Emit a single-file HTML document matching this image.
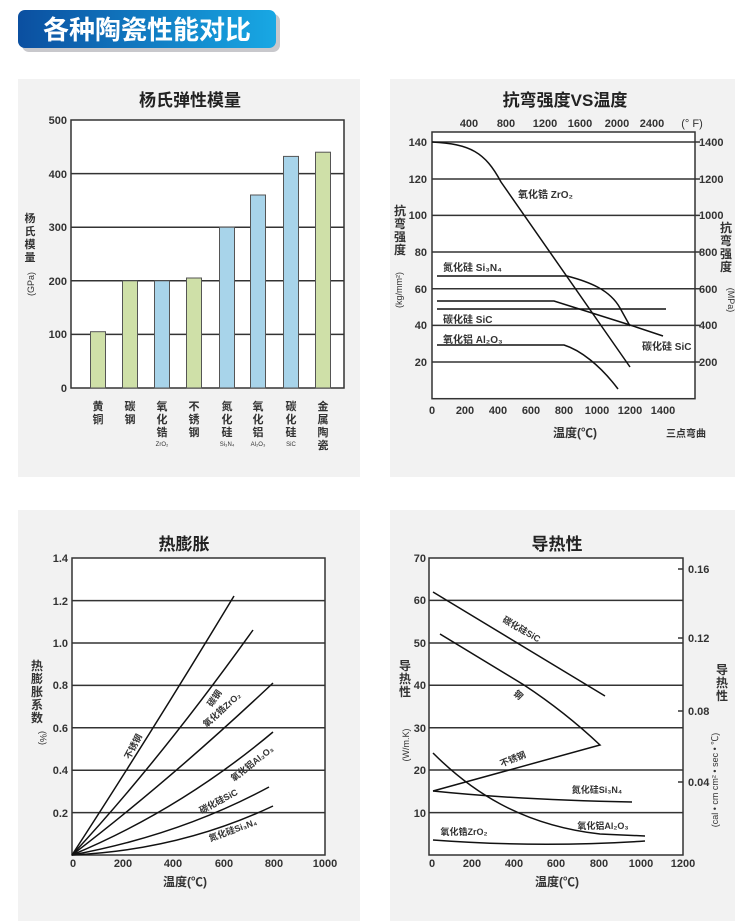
<!DOCTYPE html>
<html><head><meta charset="utf-8"><style>
body{margin:0;background:#fff}
svg{display:block}
text{font-family:"Liberation Sans","Noto Sans CJK SC",sans-serif;fill:#333}
.t{font-size:12px;font-weight:bold}
.ti{font-size:17px;font-weight:bold;fill:#222}
.g{stroke:#333;stroke-width:1.5}
.c{fill:none;stroke:#111;stroke-width:1.5}
.l{font-size:10px;font-weight:bold}
</style></head><body>
<svg width="750" height="924" viewBox="0 0 750 924" xmlns="http://www.w3.org/2000/svg">
<defs><linearGradient id="bg" x1="0" x2="1"><stop offset="0" stop-color="#0b4fa0"/><stop offset="1" stop-color="#18a8e4"/></linearGradient></defs>
<rect x="22" y="14" width="258" height="38" rx="7" fill="#c8c8cc"/>
<rect x="18" y="10" width="258" height="38" rx="7" fill="url(#bg)"/>
<text x="147" y="39" text-anchor="middle" style="font-size:26px;font-weight:bold;fill:#fff">各种陶瓷性能对比</text>

<rect x="18" y="79" width="342" height="398" fill="#f2f2f2"/>
<rect x="390" y="79" width="345" height="398" fill="#f2f2f2"/>
<rect x="18" y="510" width="342" height="411" fill="#f2f2f2"/>
<rect x="390" y="510" width="345" height="411" fill="#f2f2f2"/>

<!-- Chart 1 -->
<text x="190" y="106" class="ti" text-anchor="middle">杨氏弹性模量</text>
<rect x="71" y="120" width="273" height="268" fill="#fff" stroke="#333" stroke-width="1.5"/>
<g class="g"><line x1="71" x2="344" y1="334.4" y2="334.4"/><line x1="71" x2="344" y1="280.8" y2="280.8"/><line x1="71" x2="344" y1="227.2" y2="227.2"/><line x1="71" x2="344" y1="173.6" y2="173.6"/></g>
<g stroke="#555" stroke-width="1">
<rect x="90.5" y="331.7" width="15" height="56.3" fill="#cfe0a8"/>
<rect x="122.5" y="280.8" width="15" height="107.2" fill="#cfe0a8"/>
<rect x="154.5" y="280.8" width="15" height="107.2" fill="#a8d4ea"/>
<rect x="186.5" y="278" width="15" height="110" fill="#cfe0a8"/>
<rect x="219.5" y="227.2" width="15" height="160.8" fill="#a8d4ea"/>
<rect x="250.5" y="195" width="15" height="193" fill="#a8d4ea"/>
<rect x="283.5" y="156.4" width="15" height="231.6" fill="#a8d4ea"/>
<rect x="315.5" y="152.2" width="15" height="235.8" fill="#cfe0a8"/>
</g>
<g class="t" text-anchor="end" style="font-size:11px"><text x="67" y="124">500</text><text x="67" y="178">400</text><text x="67" y="231">300</text><text x="67" y="285">200</text><text x="67" y="338">100</text><text x="67" y="392">0</text></g>
<g class="t" text-anchor="middle" style="font-size:11px">
<text x="30" y="222">杨</text><text x="30" y="235">氏</text><text x="30" y="248">模</text><text x="30" y="261">量</text>
<text transform="translate(34,284) rotate(-90)" style="font-size:9px;font-weight:normal">(GPa)</text>
<text x="98" y="410">黄</text><text x="98" y="423">铜</text>
<text x="130" y="410">碳</text><text x="130" y="423">钢</text>
<text x="162" y="410">氧</text><text x="162" y="423">化</text><text x="162" y="436">锆</text>
<text x="194" y="410">不</text><text x="194" y="423">锈</text><text x="194" y="436">钢</text>
<text x="227" y="410">氮</text><text x="227" y="423">化</text><text x="227" y="436">硅</text>
<text x="258" y="410">氧</text><text x="258" y="423">化</text><text x="258" y="436">铝</text>
<text x="291" y="410">碳</text><text x="291" y="423">化</text><text x="291" y="436">硅</text>
<text x="323" y="410">金</text><text x="323" y="423">属</text><text x="323" y="436">陶</text><text x="323" y="449">瓷</text>
</g>
<g text-anchor="middle" style="font-size:6px"><text x="162" y="446">ZrO₂</text><text x="227" y="446">Si₃N₄</text><text x="258" y="446">Al₂O₃</text><text x="291" y="446">SiC</text></g>

<!-- Chart 2 -->
<text x="565" y="106" class="ti" text-anchor="middle">抗弯强度VS温度</text>
<rect x="432" y="132" width="263" height="266.7" fill="#fff" stroke="#333" stroke-width="1.5"/>
<g class="g"><line x1="432" x2="700" y1="142" y2="142"/><line x1="432" x2="700" y1="179" y2="179"/><line x1="432" x2="700" y1="215.4" y2="215.4"/><line x1="432" x2="700" y1="252" y2="252"/><line x1="432" x2="700" y1="288.7" y2="288.7"/><line x1="432" x2="700" y1="325.4" y2="325.4"/><line x1="432" x2="700" y1="362" y2="362"/></g>
<g class="t" text-anchor="middle" style="font-size:11px"><text x="469" y="127">400</text><text x="506" y="127">800</text><text x="545" y="127">1200</text><text x="580" y="127">1600</text><text x="617" y="127">2000</text><text x="652" y="127">2400</text><text x="692" y="127" style="font-weight:normal">(° F)</text></g>
<g class="t" text-anchor="end" style="font-size:11px"><text x="427" y="146">140</text><text x="427" y="183">120</text><text x="427" y="219">100</text><text x="427" y="256">80</text><text x="427" y="293">60</text><text x="427" y="329">40</text><text x="427" y="366">20</text></g>
<g class="t" style="font-size:11px"><text x="699" y="146">1400</text><text x="699" y="183">1200</text><text x="699" y="219">1000</text><text x="699" y="256">800</text><text x="699" y="293">600</text><text x="699" y="329">400</text><text x="699" y="366">200</text></g>
<g class="t" text-anchor="middle" style="font-size:11px"><text x="432" y="414">0</text><text x="465" y="414">200</text><text x="498" y="414">400</text><text x="531" y="414">600</text><text x="564" y="414">800</text><text x="597" y="414">1000</text><text x="630" y="414">1200</text><text x="663" y="414">1400</text></g>
<text x="575" y="437" class="t" text-anchor="middle">温度(℃)</text>
<text x="686" y="437" class="l" text-anchor="middle">三点弯曲</text>
<g class="t" text-anchor="middle"><text x="400" y="215">抗</text><text x="400" y="228">弯</text><text x="400" y="241">强</text><text x="400" y="254">度</text>
<text x="726" y="232">抗</text><text x="726" y="245">弯</text><text x="726" y="258">强</text><text x="726" y="271">度</text></g>
<text transform="translate(402,290) rotate(-90)" text-anchor="middle" style="font-size:9px">(kg/mm²)</text>
<text transform="translate(728,300) rotate(90)" text-anchor="middle" style="font-size:9px">(MPa)</text>
<path class="c" d="M432,142 C470,144 485,152 501,182 L630,367"/>
<path class="c" d="M437,276 L567,276 C590,282 610,290 620,308 L630,326"/>
<path class="c" d="M437,301 L554,301 L630,325 L663,336"/>
<path class="c" d="M437,309 L666,309"/>
<path class="c" d="M437,345 L564,345 C580,350 600,365 618,389"/>
<g class="l"><text x="518" y="198">氧化锆 ZrO₂</text><text x="443" y="271">氮化硅 Si₃N₄</text><text x="443" y="323">碳化硅 SiC</text><text x="443" y="343">氧化铝 Al₂O₃</text><text x="642" y="350">碳化硅 SiC</text></g>

<!-- Chart 3 -->
<text x="184" y="550" class="ti" text-anchor="middle">热膨胀</text>
<rect x="72" y="558" width="253" height="297" fill="#fff" stroke="#333" stroke-width="1.5"/>
<g class="g"><line x1="72" x2="325" y1="812.6" y2="812.6"/><line x1="72" x2="325" y1="770.2" y2="770.2"/><line x1="72" x2="325" y1="727.8" y2="727.8"/><line x1="72" x2="325" y1="685.4" y2="685.4"/><line x1="72" x2="325" y1="643" y2="643"/><line x1="72" x2="325" y1="600.6" y2="600.6"/></g>
<g class="t" text-anchor="end" style="font-size:11px"><text x="68" y="562">1.4</text><text x="68" y="605">1.2</text><text x="68" y="647">1.0</text><text x="68" y="689">0.8</text><text x="68" y="732">0.6</text><text x="68" y="774">0.4</text><text x="68" y="817">0.2</text></g>
<g class="t" text-anchor="middle" style="font-size:11px"><text x="73" y="867">0</text><text x="123" y="867">200</text><text x="173" y="867">400</text><text x="224" y="867">600</text><text x="274" y="867">800</text><text x="325" y="867">1000</text></g>
<text x="185" y="886" class="t" text-anchor="middle">温度(℃)</text>
<g class="t" text-anchor="middle"><text x="37" y="670">热</text><text x="37" y="683">膨</text><text x="37" y="696">胀</text><text x="37" y="709">系</text><text x="37" y="722">数</text></g>
<text transform="translate(40,738) rotate(90)" text-anchor="middle" style="font-size:9px">(%)</text>
<path class="c" d="M72,855 Q150,735 234,596"/>
<path class="c" d="M72,855 Q160,760 253,630"/>
<path class="c" d="M72,855 Q170,780 273,683"/>
<path class="c" d="M72,855 Q180,810 273,732"/>
<path class="c" d="M72,855 Q180,835 269,787"/>
<path class="c" d="M72,855 Q180,850 273,806"/>
<g class="l" text-anchor="middle" style="font-size:9px">
<text transform="translate(136,748) rotate(-62)">不锈钢</text>
<text transform="translate(217,700) rotate(-55)">碳钢</text>
<text transform="translate(224,712) rotate(-42)">氧化锆ZrO₂</text>
<text transform="translate(254,766) rotate(-38)">氧化铝Al₂O₃</text>
<text transform="translate(220,804) rotate(-28)">碳化硅SiC</text>
<text transform="translate(234,833) rotate(-20)">氮化硅Si₃N₄</text>
</g>

<!-- Chart 4 -->
<text x="557" y="550" class="ti" text-anchor="middle">导热性</text>
<rect x="429" y="558" width="254" height="297" fill="#fff" stroke="#333" stroke-width="1.5"/>
<g class="g"><line x1="429" x2="683" y1="812.6" y2="812.6"/><line x1="429" x2="683" y1="770" y2="770"/><line x1="429" x2="683" y1="727.7" y2="727.7"/><line x1="429" x2="683" y1="685.3" y2="685.3"/><line x1="429" x2="683" y1="643" y2="643"/><line x1="429" x2="683" y1="600.4" y2="600.4"/>
<line x1="678" x2="683" y1="569" y2="569"/><line x1="678" x2="683" y1="638" y2="638"/><line x1="678" x2="683" y1="711" y2="711"/><line x1="678" x2="683" y1="782" y2="782"/></g>
<g class="t" text-anchor="end" style="font-size:11px"><text x="426" y="562">70</text><text x="426" y="604">60</text><text x="426" y="647">50</text><text x="426" y="689">40</text><text x="426" y="732">30</text><text x="426" y="774">20</text><text x="426" y="817">10</text></g>
<g class="t" style="font-size:11px"><text x="688" y="573">0.16</text><text x="688" y="642">0.12</text><text x="688" y="715">0.08</text><text x="688" y="786">0.04</text></g>
<g class="t" text-anchor="middle" style="font-size:11px"><text x="432" y="867">0</text><text x="472" y="867">200</text><text x="514" y="867">400</text><text x="556" y="867">600</text><text x="599" y="867">800</text><text x="641" y="867">1000</text><text x="683" y="867">1200</text></g>
<text x="557" y="886" class="t" text-anchor="middle">温度(℃)</text>
<g class="t" text-anchor="middle"><text x="405" y="670">导</text><text x="405" y="683">热</text><text x="405" y="696">性</text>
<text x="722" y="674">导</text><text x="722" y="687">热</text><text x="722" y="700">性</text></g>
<text transform="translate(409,745) rotate(-90)" text-anchor="middle" style="font-size:9px">(W/m.K)</text>
<text transform="translate(718,780) rotate(-90)" text-anchor="middle" style="font-size:9px">(cal • cm cm² • sec • ℃)</text>
<path class="c" d="M433,592 L605,696"/>
<path class="c" d="M440,634 L524,685 Q565,712 600,745 L433,791"/>
<path class="c" d="M433,791 Q520,800 632,802"/>
<path class="c" d="M433,753 C470,790 520,825 600,834 L645,836"/>
<path class="c" d="M433,840 Q540,848 645,841"/>
<g class="l" text-anchor="middle" style="font-size:9px">
<text transform="translate(520,632) rotate(30)">碳化硅SiC</text>
<text transform="translate(516,697) rotate(45)">钢</text>
<text transform="translate(514,762) rotate(-22)">不锈钢</text>
<text x="597" y="793">氮化硅Si₃N₄</text>
<text x="603" y="829">氧化铝Al₂O₃</text>
<text x="464" y="835">氧化锆ZrO₂</text>
</g>
</svg>
</body></html>
